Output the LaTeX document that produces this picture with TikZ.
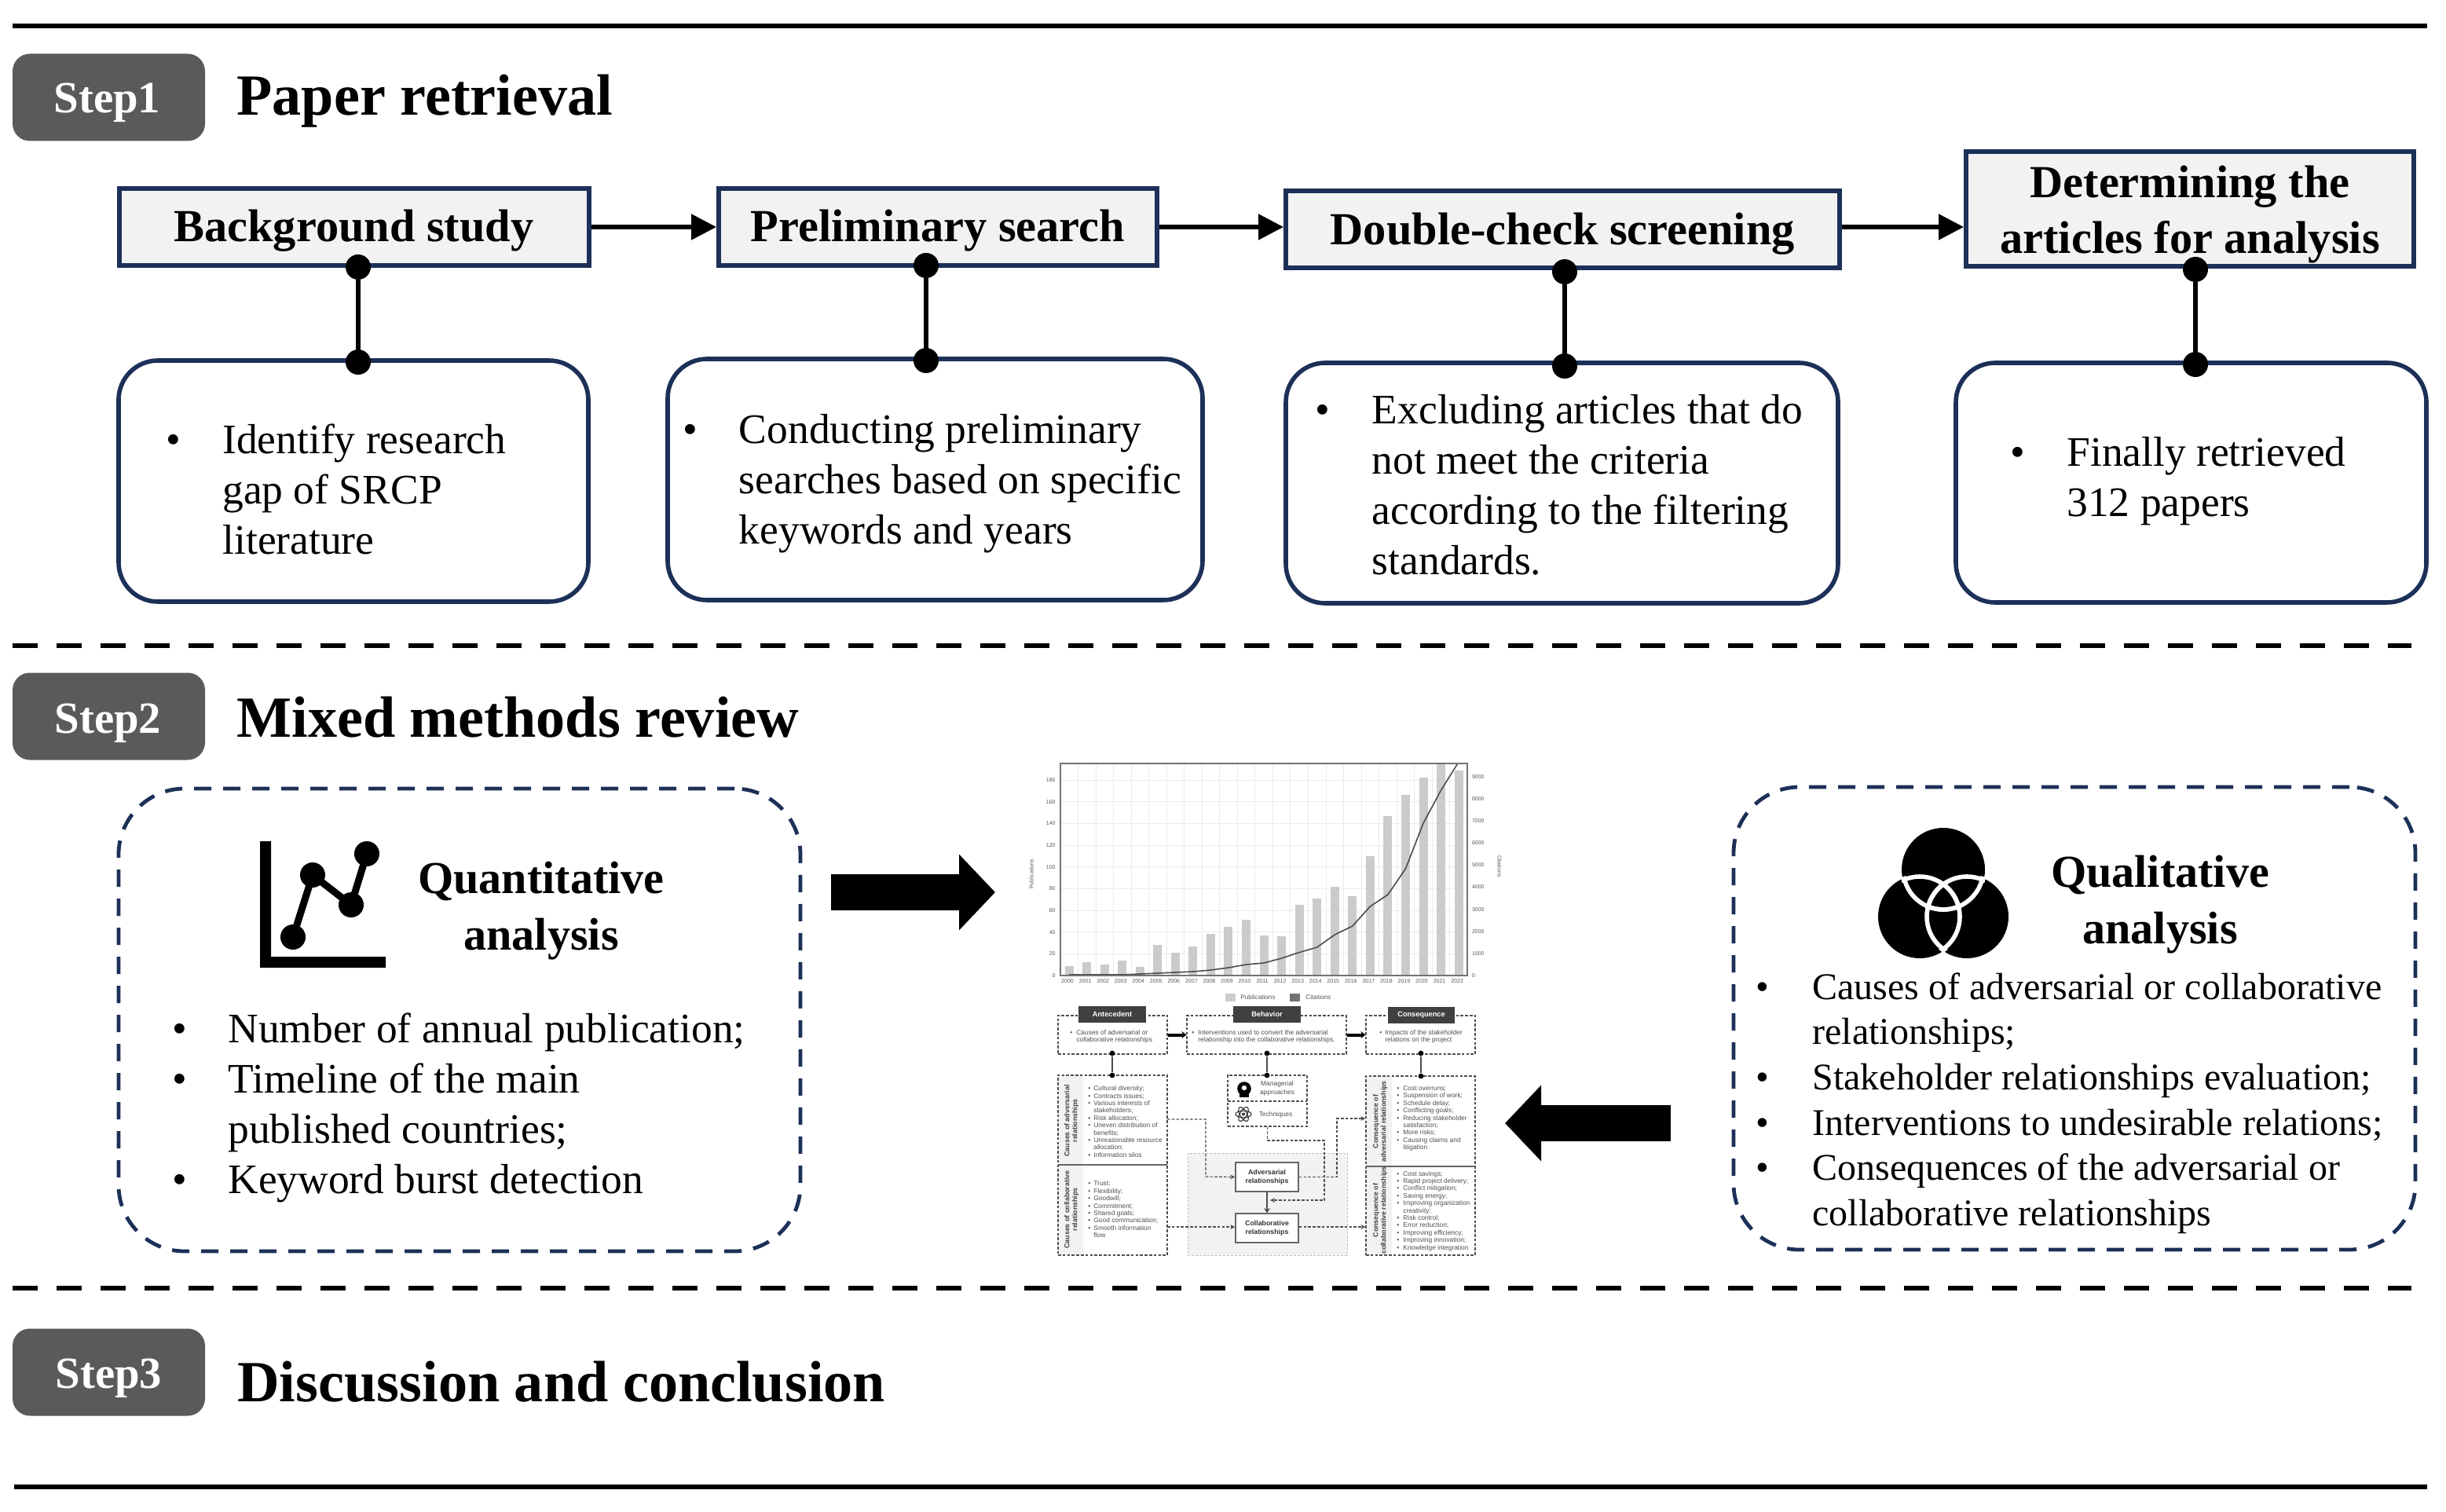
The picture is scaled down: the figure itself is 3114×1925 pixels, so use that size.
\documentclass[tikz,border=0pt]{standalone}
\usepackage{fontspec}
\setmainfont{Liberation Serif}
\newfontfamily\chartfont{Liberation Sans}
\usetikzlibrary{arrows.meta}
\definecolor{navy}{HTML}{1C3058}
\definecolor{badge}{HTML}{5A5A5A}
\definecolor{softgrey}{HTML}{F2F2F2}
\definecolor{bargrey}{HTML}{CBCBCB}
\definecolor{mini}{HTML}{4F4F4F}
\newcommand{\blt}[2][14pt]{\makebox[#1][l]{•}#2}
\newcommand{\cnt}[2][14pt]{\makebox[#1][l]{}#2}
\tikzset{
  x=0.5pt,y=-0.5pt,
  stepbadge/.style={fill=badge,rounded corners=11pt,minimum width=122.5pt,minimum height=55.5pt,inner sep=0pt},
  steplabel/.style={anchor=base,inner sep=0pt,text=white,font=\fontsize{28.4}{32}\selectfont\bfseries},
  steptitle/.style={anchor=base west,inner sep=0pt,font=\fontsize{37.1}{40}\selectfont\bfseries},
  headbox/.style={draw=navy,line width=3pt,fill=softgrey,inner sep=0pt,align=center,font=\fontsize{29.2}{35.5}\selectfont\bfseries},
  oneline/.style={text height=24pt,text depth=5pt},
  notebox/.style={draw=navy,line width=2.8pt,rounded corners=25pt,inner sep=0pt},
  dashbox/.style={draw=navy,line width=2.4pt,dash pattern=on 11pt off 7.5pt,rounded corners=42pt,inner sep=0pt},
  bodytext/.style={anchor=west,inner sep=0pt,align=left,font=\fontsize{26.75}{32}\selectfont},
  qualtext/.style={anchor=west,inner sep=0pt,align=left,font=\fontsize{24}{28.8}\selectfont},
  analysis/.style={inner sep=0pt,align=center,font=\fontsize{29.1}{36}\selectfont\bfseries},
  joint/.style={circle,fill=black,minimum size=16pt,inner sep=0pt},
  jointline/.style={line width=3pt},
  flow/.style={line width=2.7pt,-{Triangle[length=16pt,width=16pt]}},
  bigarrow/.style={line width=23pt,-{Triangle[length=23pt,width=47pt]}},
  rule/.style={line width=2.8pt},
  cutrule/.style={line width=3.4pt,dash pattern=on 16pt off 12pt},
  minidash/.style={draw=mini,line width=.6pt,dash pattern=on 1.8pt off 1.1pt},
  miniflow/.style={minidash,-{Stealth[length=3pt,width=3pt]}},
  minihead/.style={fill=black!75,text=white,inner sep=0pt,font=\chartfont\fontsize{4.6}{5}\selectfont\bfseries},
  minitext/.style={anchor=west,inner sep=0pt,align=left,text=mini,font=\chartfont\fontsize{4.2}{4.7}\selectfont},
  miniside/.style={rotate=90,inner sep=0pt,align=center,text=black!75,font=\chartfont\fontsize{4.4}{5}\selectfont\bfseries},
  minirel/.style={draw=black!60,line width=.8pt,fill=white,inner sep=0pt,align=center,text=black!80,font=\chartfont\fontsize{4.4}{5.4}\selectfont\bfseries},
  minijoint/.style={circle,fill=black,minimum size=3.4pt,inner sep=0pt},
  tick/.style={text=black!65,inner sep=0pt,font=\chartfont\fontsize{3.5}{4}\selectfont},
  legendtext/.style={text=black!65,inner sep=0pt,anchor=west,font=\chartfont\fontsize{4.1}{5}\selectfont},
}
\begin{document}
\begin{tikzpicture}
\path[use as bounding box,fill=white] (0,0) rectangle (3114,1925);

% rules
\coordinate (r1a) at (16,33); \coordinate (r1b) at (3090,33);
\coordinate (r2a) at (16,822); \coordinate (r2b) at (3070,822);
\coordinate (r3a) at (16,1640); \coordinate (r3b) at (3070,1640);
\coordinate (r4a) at (18,1893); \coordinate (r4b) at (3090,1893);
\draw[rule] (r1a)--(r1b);
\draw[cutrule] (r2a)--(r2b);
\draw[cutrule] (r3a)--(r3b);
\draw[rule] (r4a)--(r4b);

% step badges and titles
\node[stepbadge] (s1) at (138.5,124) {};
\node[stepbadge] (s2) at (138.5,912) {};
\node[stepbadge] (s3) at (138.5,1747) {};
\node[steplabel] (s1t) at (136.5,144) {Step1};
\node[steplabel] (s2t) at (137.5,933) {Step2};
\node[steplabel] (s3t) at (138.5,1767) {Step3};
\node[steptitle] (t1) at (301,147) {Paper retrieval};
\node[steptitle] (t2) at (301,938) {Mixed methods review};
\node[steptitle] (t3) at (302,1784) {Discussion and conclusion};

% step 1 head boxes
\node[headbox,oneline,minimum width=299pt,minimum height=49pt] (b1) at (450.5,289) {Background study};
\node[headbox,oneline,minimum width=279pt,minimum height=49pt] (b2) at (1194,289) {Preliminary search};
\node[headbox,oneline,minimum width=352.3pt,minimum height=49pt] (b3) at (1989.3,292.5) {Double-check screening};
\node[headbox,minimum width=285pt,minimum height=73pt] (b4) at (2788,266) {\rule{0pt}{27.4pt}Determining the\\articles for analysis};
\draw[flow] (b1.east)--(b2.west);
\draw[flow] (b2.east)--(b3.west|-b2.east);
\draw[flow] (b3.east|-b2.east)--(b4.west|-b2.east);

% step 1 note boxes
\node[notebox,minimum width=299pt,minimum height=153.5pt] (n1) at (450,612.5) {};
\node[notebox,minimum width=340.5pt,minimum height=153.5pt] (n2) at (1190.5,610.5) {};
\node[notebox,minimum width=351.5pt,minimum height=153pt] (n3) at (1988.5,615) {};
\node[notebox,minimum width=299.5pt,minimum height=152.5pt] (n4) at (2789.5,614.5) {};
\node[bodytext] (n1t) at (211,623) {\blt[36pt]{Identify research}\\\cnt[36pt]{gap of SRCP}\\\cnt[36pt]{literature}};
\node[bodytext] (n2t) at (869,616) {\blt[35.75pt]{Conducting preliminary}\\\cnt[35.75pt]{searches based on specific}\\\cnt[35.75pt]{keywords and years}};
\node[bodytext] (n3t) at (1674,617) {\blt[36.25pt]{Excluding articles that do}\\\cnt[36.25pt]{not meet the criteria}\\\cnt[36.25pt]{according to the filtering}\\\cnt[36.25pt]{standards.}};
\node[bodytext] (n4t) at (2559,613) {\blt[36pt]{Finally retrieved}\\\cnt[36pt]{312 papers}};

% step 1 connectors
\node[joint] (j1a) at (456,340) {}; \node[joint] (j1b) at (456,461) {};
\node[joint] (j2a) at (1179,338) {}; \node[joint] (j2b) at (1179,459) {};
\node[joint] (j3a) at (1992,346) {}; \node[joint] (j3b) at (1992,466) {};
\node[joint] (j4a) at (2795,343) {}; \node[joint] (j4b) at (2795,464) {};
\draw[jointline] (j1a)--(j1b);
\draw[jointline] (j2a)--(j2b);
\draw[jointline] (j3a)--(j3b);
\draw[jointline] (j4a)--(j4b);

% step 2 panels
\node[dashbox,minimum width=434pt,minimum height=294.5pt] (qa) at (585,1298.5) {};
\node[dashbox,minimum width=434pt,minimum height=294.5pt] (ql) at (2641,1296.5) {};
\node[analysis] (qat) at (689,1160) {Quantitative\\analysis};
\node[analysis] (qlt) at (2750,1152) {Qualitative\\analysis};
\node[bodytext] (qal) at (219,1410.6) {\blt[35.5pt]{Number of annual publication;}\\\blt[35.5pt]{Timeline of the main}\\\cnt[35.5pt]{published countries;}\\\blt[35.5pt]{Keyword burst detection}};
\node[qualtext] (qll) at (2235,1404.5) {\blt[36pt]{Causes of adversarial or collaborative}\\\cnt[36pt]{relationships;}\\\blt[36pt]{Stakeholder relationships evaluation;}\\\blt[36pt]{Interventions to undesirable relations;}\\\blt[36pt]{Consequences of the adversarial or}\\\cnt[36pt]{collaborative relationships}};

% line chart icon
\fill (331,1071)--(345,1071)--(345,1218)--(491,1218)--(491,1232)--(331,1232)--cycle;
\draw[line width=4.5pt] (373,1193)--(398,1114)--(447,1152)--(467,1087);
\foreach \p in {(373,1193),(398,1114),(447,1152),(467,1087)} \fill \p circle[radius=8pt];

% venn icon
\fill (2474,1107) circle[radius=26.5pt];
\fill (2444,1167) circle[radius=26.5pt];
\fill (2504,1167) circle[radius=26.5pt];
\foreach \a/\b in {{(2474,1107)}/{(2444,1167)},{(2474,1107)}/{(2504,1167)},{(2444,1167)}/{(2474,1107)},{(2444,1167)}/{(2504,1167)},{(2504,1167)}/{(2474,1107)},{(2504,1167)}/{(2444,1167)}}{
  \begin{scope}
    \clip \b circle[radius=27.5pt];
    \draw[white,line width=2.8pt] \a circle[radius=25.5pt];
  \end{scope}
}

% big arrows
\coordinate (ba1) at (1058,1136); \coordinate (ba2) at (1267,1136);
\coordinate (ba3) at (2127,1430); \coordinate (ba4) at (1916,1430);
\draw[bigarrow] (ba1)--(ba2);
\draw[bigarrow] (ba3)--(ba4);

% ---- bar chart ----
\begin{scope}
\foreach \i in {0,...,9} \draw[black!8,line width=.3pt] (1350,{1242-\i*27.66})--(1868,{1242-\i*27.66});
\foreach \i in {0,...,23} \draw[black!8,line width=.3pt] ({1350+\i*22.52},972)--({1350+\i*22.52},1242);
\foreach \yr/\v [count=\c from 0] in {2000/9,2001/12,2002/10,2003/14,2004/8,2005/28,2006/21,2007/27,2008/38,2009/45,2010/51,2011/37,2012/36,2013/65,2014/71,2015/82,2016/73,2017/110,2018/147,2019/166,2020/182,2021/195,2022/189}{
  \fill[bargrey] ({1361+\c*22.55-5.5},1242) rectangle ({1361+\c*22.55+5.5},{1242-\v*1.383});
  \node[tick] at ({1359+\c*22.55},1249) {\yr};
}
\draw[black!70,line width=.8pt,line join=round] (1361,1241)--(1428.65,1241)--(1451.2,1240)--(1473.75,1239)--(1496.3,1238)--(1518.85,1237)--(1541.4,1235)--(1563.95,1232)--(1586.5,1228)--(1609.05,1226)--(1631.6,1220)--(1654.15,1212.5)--(1676.7,1206)--(1699.25,1190)--(1721.8,1179)--(1744.35,1154)--(1766.9,1139)--(1789.45,1106)--(1812,1048)--(1834.55,1006)--(1855.8,972);
\draw[black!55,line width=.6pt] (1350,972)--(1350,1242)--(1868,1242)--(1868,972)--cycle;
\foreach \v in {0,20,...,180} \node[tick,anchor=east] at (1344,{1242-\v*1.383}) {\v};
\foreach \v in {0,1000,...,9000} \node[tick,anchor=west] at (1873.6,{1242-\v*0.0281}) {\v};
\node[tick,rotate=90] at (1313,1113) {Publications};
\node[tick,rotate=-90] at (1909,1103) {Citations};
\fill[bargrey] (1560,1265) rectangle (1573,1275);
\node[legendtext] at (1579,1270) {Publications};
\fill[black!55] (1642,1265) rectangle (1655,1275);
\node[legendtext] at (1662,1270) {Citations};
\end{scope}

% ---- framework ----
\fill[softgrey] (1512,1468) rectangle (1715,1598);
\draw[draw=black!25,line width=.5pt,dash pattern=on 1.5pt off 1pt] (1512,1468) rectangle (1715,1598);

\node[minidash,minimum width=69.5pt,minimum height=24.5pt,inner sep=0pt] (f1) at (1416.5,1317.5) {};
\node[minidash,minimum width=101.5pt,minimum height=24.5pt,inner sep=0pt] (f2) at (1612.5,1317.5) {};
\node[minidash,minimum width=69.5pt,minimum height=24.5pt,inner sep=0pt] (f3) at (1808.5,1317.5) {};
\node[minihead,minimum width=43pt,minimum height=10.5pt] (h1) at (1416,1291.5) {Antecedent};
\node[minihead,minimum width=43pt,minimum height=10.5pt] (h2) at (1613,1291.5) {Behavior};
\node[minihead,minimum width=42.5pt,minimum height=10.5pt] (h3) at (1809.5,1292.5) {Consequence};
\node[minitext] (f1t) at (1362,1320) {\blt[4pt]{Causes of adversarial or}\\\cnt[4pt]{collaborative relationships}};
\node[minitext] (f2t) at (1517,1320) {\blt[4pt]{Interventions used to convert the adversarial}\\\cnt[4pt]{relationship into the collaborative relationships.}};
\node[minitext] (f3t) at (1756,1320) {\blt[3.5pt]{Impacts of the stakeholder}\\\cnt[3.5pt]{relations on the project}};
\draw[line width=2pt,-{Stealth[length=3pt,width=4.5pt]}] (f1.east)--(f2.west);
\draw[line width=2pt,-{Stealth[length=3pt,width=4.5pt]}] (f2.east)--(f3.west);

% left column
\fill[softgrey] (1347,1369) rectangle (1379,1598);
\node[minidash,minimum width=69.5pt,minimum height=114.5pt,inner sep=0pt] (c) at (1416.5,1483.5) {};
\coordinate (cl) at (1347,1483); \coordinate (cr) at (1486,1483);
\draw[black!60,line width=.8pt] (cl)--(cr);
\node[miniside] (c1s) at (1364,1427) {Causes of adversarial\\relationships};
\node[miniside] (c2s) at (1364,1540) {Causes of collaborative\\relationships};
\node[minitext] (c1t) at (1385,1428) {\blt[3.5pt]{Cultural diversity;}\\\blt[3.5pt]{Contracts issues;}\\\blt[3.5pt]{Various interests of}\\\cnt[3.5pt]{stakeholders;}\\\blt[3.5pt]{Risk allocation;}\\\blt[3.5pt]{Uneven distribution of}\\\cnt[3.5pt]{benefits;}\\\blt[3.5pt]{Unreasonable resource}\\\cnt[3.5pt]{allocation;}\\\blt[3.5pt]{Information silos}};
\node[minitext] (c2t) at (1385,1540) {\blt[3.5pt]{Trust;}\\\blt[3.5pt]{Flexibility;}\\\blt[3.5pt]{Goodwill;}\\\blt[3.5pt]{Commitment;}\\\blt[3.5pt]{Shared goals;}\\\blt[3.5pt]{Good communication;}\\\blt[3.5pt]{Smooth information}\\\cnt[3.5pt]{flow}};

% middle column
\node[minidash,minimum width=50.5pt,minimum height=32.5pt,inner sep=0pt] (m) at (1613.5,1401.5) {};
\coordinate (ml) at (1563,1402); \coordinate (mr) at (1664,1402);
\draw[minidash] (ml)--(mr);
\node[text=mini,inner sep=0pt,align=center,font=\chartfont\fontsize{4.2}{5.4}\selectfont] (m1) at (1626,1386) {Managerial\\approaches};
\node[text=mini,inner sep=0pt,font=\chartfont\fontsize{4.2}{5}\selectfont] (m2) at (1624,1419) {Techniques};
% head icon
\fill[black] (1584,1386) circle[radius=4.4pt];
\fill[black] (1578,1388) rectangle (1590,1397);
\fill[white] (1584,1385) circle[radius=1.6pt];
% atom icon
\foreach \r in {0,60,120} \draw[black!80,line width=.55pt] (1583,1418.5) ellipse[x radius=5pt,y radius=2.2pt,rotate=\r];
\fill[black!80] (1583,1418.5) circle[radius=1pt];

\node[minirel,minimum width=40pt,minimum height=18.5pt] (ad) at (1613,1498.5) {Adversarial\\relationships};
\node[minirel,minimum width=40pt,minimum height=18.5pt] (co) at (1613,1563.5) {Collaborative\\relationships};
\draw[black!70,line width=1pt,-{Stealth[length=3pt,width=4pt]}] (ad.south)--(co.north);

% right column
\fill[softgrey] (1739,1370) rectangle (1772,1598);
\node[minidash,minimum width=69.5pt,minimum height=114pt,inner sep=0pt] (q) at (1808.5,1484) {};
\coordinate (ql2) at (1739,1485); \coordinate (qr2) at (1878,1485);
\draw[black!60,line width=.8pt] (ql2)--(qr2);
\node[miniside] (q1s) at (1757,1428) {Consequence of\\adversarial relationships};
\node[miniside] (q2s) at (1757,1541) {Consequence of\\collaborative relationships};
\node[minitext] (q1t) at (1778,1424) {\blt[4pt]{Cost overruns;}\\\blt[4pt]{Suspension of work;}\\\blt[4pt]{Schedule delay;}\\\blt[4pt]{Conflicting goals;}\\\blt[4pt]{Reducing stakeholder}\\\cnt[4pt]{satisfaction;}\\\blt[4pt]{More risks;}\\\blt[4pt]{Causing claims and}\\\cnt[4pt]{litigation}};
\node[minitext] (q2t) at (1778,1542) {\blt[4pt]{Cost savings;}\\\blt[4pt]{Rapid project delivery;}\\\blt[4pt]{Conflict mitigation;}\\\blt[4pt]{Saving energy;}\\\blt[4pt]{Improving organization}\\\cnt[4pt]{creativity;}\\\blt[4pt]{Risk control;}\\\blt[4pt]{Error reduction;}\\\blt[4pt]{Improving efficiency;}\\\blt[4pt]{Improving innovation;}\\\blt[4pt]{Knowledge integration}};

% framework connectors
\node[minijoint] (fj1a) at (1416,1341) {}; \node[minijoint] (fj1b) at (1416,1369) {};
\node[minijoint] (fj2a) at (1613,1341) {}; \node[minijoint] (fj2b) at (1613,1369) {};
\node[minijoint] (fj3a) at (1809,1341) {}; \node[minijoint] (fj3b) at (1809,1370) {};
\draw[black!70,line width=.8pt] (fj1a)--(fj1b);
\draw[black!70,line width=.8pt] (fj2a)--(fj2b);
\draw[black!70,line width=.8pt] (fj3a)--(fj3b);

\coordinate (e1) at (1486,1425); \coordinate (e2) at (1535,1498);
\draw[miniflow] (e1)-|(e2)--(ad.west);
\coordinate (e3) at (1486,1562);
\draw[miniflow] (e3)--(co.west|-e3);
\coordinate (e4) at (1686,1452); \coordinate (e5) at (1617,1528);
\draw[miniflow] (m.south)|-(e4)|-(e5);
\coordinate (e6) at (1702,1424);
\draw[miniflow] (ad.east)-|(e6)--(q.west|-e6);
\draw[miniflow] (co.east|-e3)--(q.west|-e3);
\end{tikzpicture}
\end{document}
